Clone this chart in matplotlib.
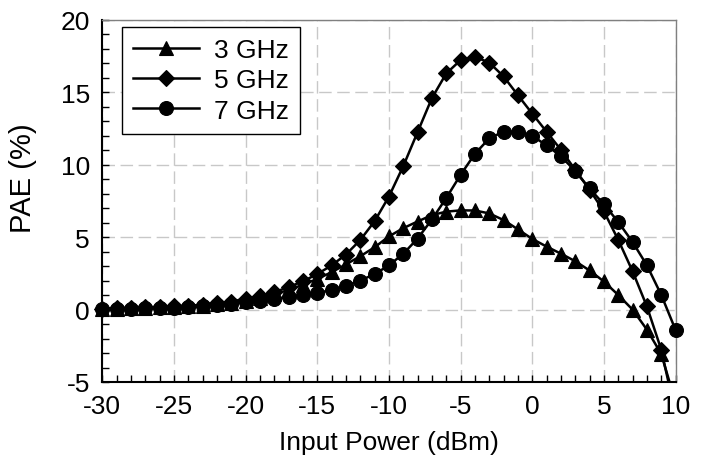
import numpy as np
import matplotlib
matplotlib.use("Agg")
import matplotlib.pyplot as plt
from matplotlib.lines import Line2D
from matplotlib.ticker import MultipleLocator

plt.rcParams['font.family'] = ['Liberation Sans', 'DejaVu Sans']

input_power = list(range(-30, 11))

pae_3ghz = [0.04, 0.07, 0.09, 0.12, 0.15, 0.19, 0.23, 0.28, 0.36, 0.46,
            0.62, 0.82, 1.05, 1.35, 1.72, 2.12, 2.58, 3.12, 3.68, 4.30,
            5.05, 5.62, 6.08, 6.52, 6.76, 6.85, 6.84, 6.64, 6.18, 5.54,
            4.88, 4.35, 3.86, 3.34, 2.70, 1.94, 1.01, 0.00, -1.38, -3.06,
            -6.4]
pae_5ghz = [0.06, 0.09, 0.12, 0.15, 0.18, 0.22, 0.27, 0.33, 0.42, 0.55,
            0.75, 0.95, 1.20, 1.55, 1.95, 2.45, 3.05, 3.80, 4.80, 6.10,
            7.80, 9.90, 12.25, 14.60, 16.30, 17.22, 17.45, 17.05, 16.10, 14.80,
            13.53, 12.28, 11.03, 9.65, 8.28, 6.78, 4.82, 2.65, 0.22, -2.76,
            -7.2]
pae_7ghz = [0.02, 0.04, 0.06, 0.08, 0.10, 0.13, 0.17, 0.22, 0.30, 0.40,
            0.50, 0.62, 0.75, 0.87, 1.00, 1.15, 1.35, 1.62, 2.00, 2.45,
            3.05, 3.85, 4.90, 6.22, 7.70, 9.30, 10.75, 11.82, 12.28, 12.27,
            12.00, 11.33, 10.60, 9.55, 8.36, 7.27, 6.05, 4.67, 3.06, 1.02,
            -1.40]

series_labels = ['3 GHz', '5 GHz', '7 GHz']
x_ticks = [-30, -25, -20, -15, -10, -5, 0, 5, 10]
y_ticks = [-5, 0, 5, 10, 15, 20]

fig = plt.figure(figsize=(7.05, 4.56), dpi=100)
ax = fig.add_axes([0.1451, 0.1601, 0.8131, 0.7941])

x = np.array(input_power, dtype=float)
ymin, ymax = -5, 20
styles = [('^', 9.5), ('D', 8.0), ('o', 10.0)]
handles = []
for vals, (mk, ms), lab in zip([pae_3ghz, pae_5ghz, pae_7ghz], styles, series_labels):
    y = np.array(vals, dtype=float)
    ax.plot(x, y, color='black', lw=1.8, zorder=3, clip_on=True)
    ym = np.where((y >= ymin) & (y <= ymax), y, np.nan)
    ax.plot(x, ym, ls='none', marker=mk, ms=ms, mfc='black', mec='black',
            mew=0.8, zorder=4, clip_on=False)
    handles.append(Line2D([], [], color='black', lw=1.8, marker=mk, ms=ms,
                          mfc='black', mec='black', mew=0.8))

ax.set_xlim(-30, 10)
ax.set_ylim(ymin, ymax)
ax.set_xticks(x_ticks)
ax.set_yticks(y_ticks)
ax.set_xticklabels([str(t) for t in x_ticks])
ax.set_yticklabels([str(t) for t in y_ticks])
ax.xaxis.set_minor_locator(MultipleLocator(1))
ax.yaxis.set_minor_locator(MultipleLocator(1))
ax.tick_params(which='both', direction='in', color='black', width=1,
               top=False, right=False, labelsize=19, pad=9)
ax.tick_params(which='major', length=5)
ax.tick_params(which='minor', length=5)

ax.grid(True, which='major', color='#c8c8c8', lw=1, ls=(0, (9, 4)), zorder=0)
ax.set_axisbelow(True)

for s in ['left', 'bottom']:
    ax.spines[s].set_color('black')
    ax.spines[s].set_linewidth(1.5)
for s in ['top', 'right']:
    ax.spines[s].set_color('#808080')
    ax.spines[s].set_linewidth(1.0)

ax.set_xlabel('Input Power (dBm)', fontsize=19, labelpad=8.5)
ax.set_ylabel('PAE (%)', fontsize=21)
ax.yaxis.set_label_coords(-0.114, 0.566)

leg = ax.legend(handles, series_labels, loc='upper left',
                bbox_to_anchor=(0.0344, 0.981), borderaxespad=0,
                fontsize=19, frameon=True, fancybox=False, shadow=False,
                handlelength=2.5, handletextpad=0.57, labelspacing=0.24,
                borderpad=0.42, edgecolor='black', framealpha=1)
leg.get_frame().set_linewidth(1.0)

fig.savefig('out.png', dpi=100)
